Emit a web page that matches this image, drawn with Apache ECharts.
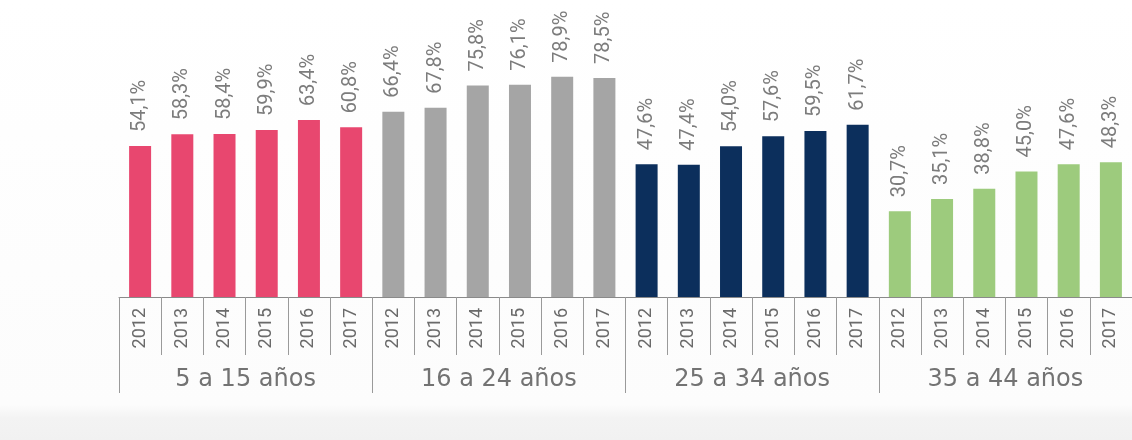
<!DOCTYPE html>
<html>
<head>
<meta charset="utf-8">
<script src="https://cdn.jsdelivr.net/npm/echarts@6/dist/echarts.min.js"></script>
<style>
  html, body { margin: 0; padding: 0; background: #fff; }
  #chart { width: 1132px; height: 440px; }
</style>
</head>
<body>
<div id="chart"></div>
<script>
// datos
const years = ["2012", "2013", "2014", "2015", "2016", "2017"];
const groups = ["5 a 15 años", "16 a 24 años", "25 a 34 años", "35 a 44 años"];
const g5a15 = [54.1, 58.3, 58.4, 59.9, 63.4, 60.8];
const g16a24 = [66.4, 67.8, 75.8, 76.1, 78.9, 78.5];
const g25a34 = [47.6, 47.4, 54.0, 57.6, 59.5, 61.7];
const g35a44 = [30.7, 35.1, 38.8, 45.0, 47.6, 48.3];
const groupColors = ["#e8476f", "#a5a5a5", "#0c2f5c", "#9dcb7d"];

// armar categorias y valores
let cats = [];
let values = [];
[g5a15, g16a24, g25a34, g35a44].forEach((arr, gi) => {
    arr.forEach((v, i) => {
        cats.push(years[i]);
        values.push({ value: v, itemStyle: { color: groupColors[gi] } });
    });
});

let chart = echarts.init(document.getElementById("chart"));
let option = {
    backgroundColor: {
        type: "linear", x: 0, y: 0, x2: 0, y2: 1,
        colorStops: [
            { offset: 0, color: "#ffffff" },
            { offset: 0.92, color: "#fcfcfc" },
            { offset: 0.95, color: "#f3f3f3" },
            { offset: 1, color: "#f1f1f1" }
        ]
    },
    grid: { left: 119, right: -9, top: 18, bottom: 143 },
    xAxis: [
        {
            type: "category",
            data: cats,
            axisLine: { show: true, lineStyle: { color: "#8a8a8a", width: 1 } },
            axisTick: { show: true, interval: 0, length: 58, lineStyle: { color: "#9a9a9a" } },
            axisLabel: {
                interval: 0,
                rotate: 90,
                margin: 11,
                fontFamily: "Roboto",
                fontSize: 18,
                color: "#6a6a6a"
            }
        },
        {
            type: "category",
            data: groups,
            position: "bottom",
            axisLine: { show: false },
            axisTick: { show: true, interval: 0, length: 96, lineStyle: { color: "#9a9a9a" } },
            axisLabel: {
                interval: 0,
                margin: 71,
                fontFamily: "'DejaVu Sans', sans-serif",
                fontSize: 24,
                color: "#737373"
            }
        }
    ],
    yAxis: {
        type: "value",
        min: 0,
        max: 100,
        show: false
    },
    series: [
        {
            type: "bar",
            xAxisIndex: 0,
            barWidth: 22,
            data: values,
            label: {
                show: true,
                position: "top",
                rotate: 90,
                align: "left",
                verticalAlign: "middle",
                distance: 14,
                fontFamily: "Roboto",
                fontSize: 20,
                color: "#7c7c7c",
                formatter: p => p.value.toFixed(1).replace(".", ",") + "%"
            }
        }
    ]
};
chart.setOption(option);
</script>
</body>
</html>
